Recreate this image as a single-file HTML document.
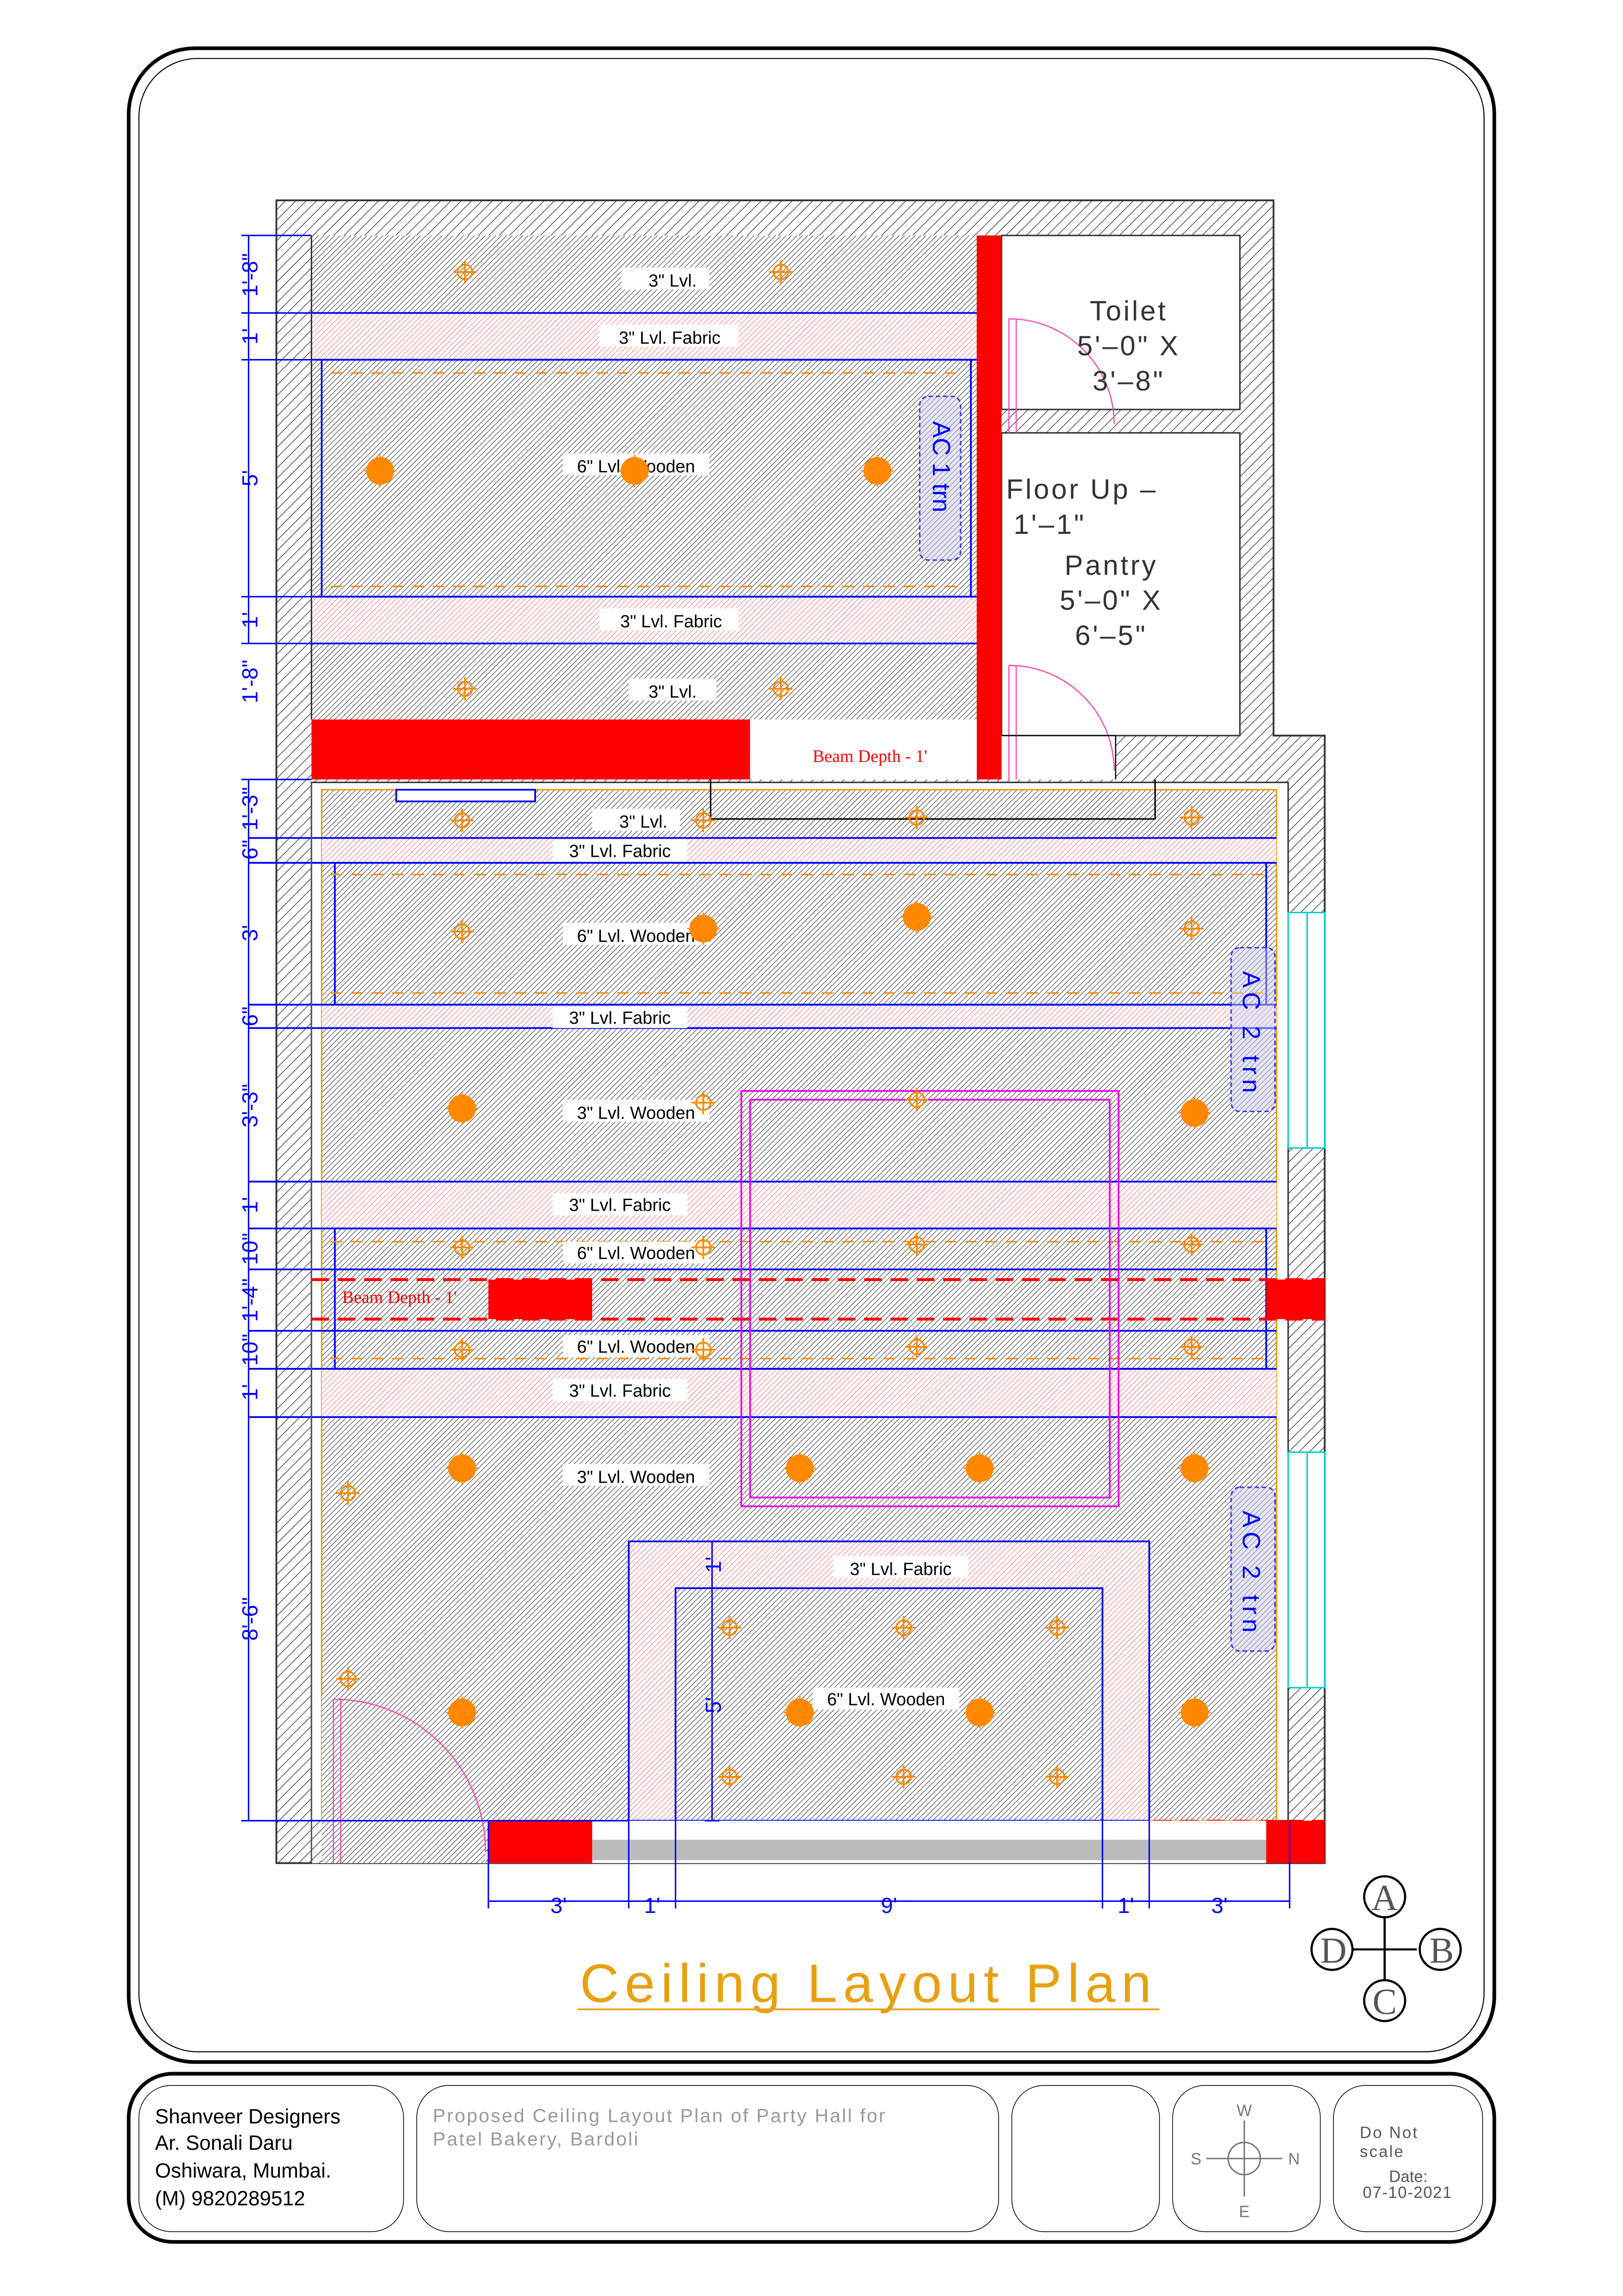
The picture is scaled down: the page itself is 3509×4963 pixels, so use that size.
<!DOCTYPE html>
<html><head><meta charset="utf-8"><style>html,body{margin:0;padding:0;background:#fff}svg{display:block}</style></head><body>
<svg width="3509" height="4963" viewBox="0 0 1110 1570" xmlns="http://www.w3.org/2000/svg" font-family="'Liberation Sans', sans-serif">
<defs>
<pattern id="wall" width="5" height="5" patternUnits="userSpaceOnUse" patternTransform="rotate(45)"><rect width="5" height="5" fill="#fff"/><line x1="0" y1="0" x2="0" y2="5" stroke="#222" stroke-width="0.8"/></pattern>
<pattern id="ceil" width="2.6" height="2.6" patternUnits="userSpaceOnUse" patternTransform="rotate(45)"><rect width="2.6" height="2.6" fill="#fff"/><line x1="0" y1="0" x2="0" y2="2.6" stroke="#111" stroke-width="0.6"/></pattern>
<pattern id="fab" width="2.6" height="2.6" patternUnits="userSpaceOnUse" patternTransform="rotate(45)"><rect width="2.6" height="2.6" fill="#fff"/><line x1="0" y1="0" x2="0" y2="2.6" stroke="#e33" stroke-width="0.5"/></pattern>
<g id="sl"><circle r="5" fill="none" stroke="#f80" stroke-width="1.2"/><path d="M-8 0H8M0-8V8" stroke="#f80" stroke-width="1.2"/></g>
<g id="bl"><circle r="9" fill="#f80" stroke="#f80"/><path d="M-11 0H11M0-11V11" stroke="#f80" stroke-width="1"/></g>
</defs>
<rect width="1110" height="1570" fill="#fff"/>
<rect x="88" y="33" width="934" height="1377" rx="45" fill="none" stroke="#000" stroke-width="2.5"/>
<rect x="95" y="40" width="920" height="1363" rx="40" fill="none" stroke="#000" stroke-width="0.7"/>
<rect x="88" y="1418" width="934" height="115" rx="30" fill="none" stroke="#000" stroke-width="2.5"/>
<rect x="95" y="1426" width="181" height="100" rx="22" fill="none" stroke="#000" stroke-width="0.5"/>
<rect x="285" y="1426" width="398" height="100" rx="22" fill="none" stroke="#000" stroke-width="0.5"/>
<rect x="692" y="1426" width="101" height="100" rx="22" fill="none" stroke="#000" stroke-width="0.5"/>
<rect x="802" y="1426" width="101" height="100" rx="22" fill="none" stroke="#000" stroke-width="0.5"/>
<rect x="912" y="1426" width="102" height="100" rx="22" fill="none" stroke="#000" stroke-width="0.5"/>
<g font-size="14" fill="#000"><text x="106" y="1452">Shanveer Designers</text><text x="106" y="1470">Ar. Sonali Daru</text><text x="106" y="1489">Oshiwara, Mumbai.</text><text x="106" y="1508">(M) 9820289512</text></g>
<g font-size="13" fill="#999" letter-spacing="1"><text x="296" y="1451">Proposed Ceiling Layout Plan of Party Hall for</text><text x="296" y="1467">Patel Bakery, Bardoli</text></g>
<g stroke="#777" fill="none" stroke-width="1"><circle cx="851" cy="1476" r="11"/><path d="M825 1476H877M851 1450V1502"/></g>
<g font-size="11" fill="#777" text-anchor="middle"><text x="851" y="1447">W</text><text x="851" y="1516">E</text><text x="818" y="1480">S</text><text x="885" y="1480">N</text></g>
<g font-size="11" fill="#555"><text x="930" y="1462" letter-spacing="1">Do  Not</text><text x="930" y="1475" letter-spacing="1">scale</text><text x="950" y="1492">Date:</text><text x="932" y="1503" letter-spacing="0.5">07-10-2021</text></g>

<path d="M189 137H871V503H906V1274H189Z" fill="url(#wall)" stroke="#333" stroke-width="1.2"/>
<rect x="213" y="161" width="455" height="331" fill="url(#ceil)"/>
<rect x="213" y="214" width="455" height="32" fill="url(#fab)"/>
<rect x="213" y="408" width="455" height="32" fill="url(#fab)"/>
<g stroke="#00f" stroke-width="1.2" fill="none"><path d="M213 214H668M213 246H668M213 408H668M213 440H668"/><rect x="220" y="246" width="444" height="162"/></g>
<g stroke="#f80" stroke-dasharray="8 6" stroke-width="1"><path d="M226 255H660M226 401H660"/></g>
<rect x="685" y="161" width="163" height="119" fill="#fff" stroke="#333" stroke-width="1"/>
<rect x="685" y="296" width="163" height="207" fill="#fff" stroke="#333" stroke-width="1"/>
<rect x="685" y="503" width="78" height="30" fill="#fff"/>
<path d="M213 161V492" stroke="#333" stroke-width="1"/>
<rect x="668" y="161" width="17" height="372" fill="#f00"/>
<rect x="213" y="492" width="300" height="41" fill="#f00"/>
<rect x="513" y="492" width="155" height="41" fill="#fff"/>
<text x="595" y="521" font-family="'Liberation Serif',serif" font-size="12" fill="#f00" text-anchor="middle">Beam Depth - 1'</text>
<path d="M690 218A72 72 0 0 1 762 290M690 218V296M695 218V296M690 455A72 72 0 0 1 762 527M690 455V533M695 455V533" stroke="#f4a" fill="none" stroke-width="0.8"/>
<path d="M685 503H763V533" stroke="#000" fill="none" stroke-width="0.8"/>
<g font-size="19" fill="#333" text-anchor="middle" letter-spacing="1.5"><text x="772" y="219">Toilet</text><text x="772" y="243">5'–0" X</text><text x="772" y="267">3'–8"</text><text x="740" y="341">Floor Up –</text><text x="718" y="365">1'–1"</text><text x="760" y="393">Pantry</text><text x="760" y="417">5'–0" X</text><text x="760" y="441">6'–5"</text></g>
<rect x="629" y="271" width="28" height="112" rx="6" fill="#cce" fill-opacity="0.5" stroke="#33f" stroke-dasharray="3 2"/>
<text transform="translate(638,288) rotate(90)" font-size="17" fill="#00f">AC 1 trn</text>

<rect x="213" y="535" width="668" height="710" fill="#fff" stroke="#333" stroke-width="1"/>
<rect x="220" y="540" width="653" height="705" fill="url(#ceil)" stroke="#e90" stroke-width="1"/>
<g fill="url(#fab)"><rect x="220" y="573" width="653" height="17"/><rect x="220" y="687" width="653" height="16"/><rect x="220" y="808" width="653" height="32"/><rect x="220" y="936" width="653" height="33"/></g>
<g stroke="#00f" stroke-width="1.2" fill="none"><path d="M170 573H873M170 590H873M170 687H873M170 703H873M170 808H873M170 840H873M170 868H873M170 910H873M170 936H873M170 969H873"/><rect x="229" y="590" width="637" height="97"/><rect x="229" y="840" width="637" height="96"/><rect x="271" y="540" width="95" height="8" fill="#fff"/></g>
<path d="M486 533V560H790V533" stroke="#000" fill="none" stroke-width="1"/>
<g stroke="#f80" stroke-dasharray="8 6" stroke-width="1"><path d="M226 598H866M226 679H866M226 849H866M226 929H866"/></g>
<g stroke="#f00" stroke-dasharray="12 6" stroke-width="2"><path d="M213 875H906M213 902H906"/><path d="M213 1245H906" stroke-width="1.2"/></g>
<rect x="334" y="875" width="71" height="27" fill="#f00"/>
<rect x="866" y="875" width="40" height="27" fill="#f00"/>
<text x="234" y="891" font-family="'Liberation Serif',serif" font-size="12" fill="#f00">Beam Depth - 1'</text>
<rect x="507" y="746" width="258" height="284" fill="none" stroke="#e0e" stroke-width="1.2"/>
<rect x="513" y="752" width="246" height="272" fill="none" stroke="#e0e" stroke-width="1.2"/>
<rect x="430" y="1054" width="356" height="191" fill="url(#fab)" stroke="#00f" stroke-width="1.2"/>
<rect x="462" y="1086" width="292" height="159" fill="url(#ceil)" stroke="#00f" stroke-width="1.2"/>
<g fill="#fff" stroke="#0cc" stroke-width="1"><rect x="881" y="624" width="25" height="161"/><rect x="881" y="993" width="25" height="161"/><path d="M894 624V785M894 993V1154"/></g>
<rect x="213" y="1245" width="121" height="29" fill="url(#wall)"/>
<rect x="334" y="1245" width="532" height="29" fill="#fff"/>
<rect x="334" y="1245" width="71" height="29" fill="#f00"/>
<rect x="405" y="1258" width="461" height="14" fill="#bbb"/>
<rect x="866" y="1245" width="40" height="29" fill="#f00"/>
<rect x="220" y="1160" width="112" height="114" fill="url(#ceil)"/>
<path d="M228 1162A104 104 0 0 1 332 1266M228 1162V1274M233 1162V1274" stroke="#f4a" fill="none" stroke-width="0.8"/>
<path d="M213 535V1274" stroke="#555" stroke-width="1"/>
<rect x="842" y="648" width="30" height="112" rx="6" fill="#cce" fill-opacity="0.5" stroke="#33f" stroke-dasharray="3 2"/>
<text transform="translate(850,664) rotate(90)" font-size="17" fill="#00f" letter-spacing="3">AC 2 trn</text>
<rect x="842" y="1017" width="30" height="112" rx="6" fill="#cce" fill-opacity="0.5" stroke="#33f" stroke-dasharray="3 2"/>
<text transform="translate(850,1033) rotate(90)" font-size="17" fill="#00f" letter-spacing="3">AC 2 trn</text>
<g font-size="12" fill="#000" text-anchor="middle">
<g fill="#fff"><rect x="425" y="183" width="60" height="15"/><rect x="410" y="222" width="95" height="15"/><rect x="385" y="310" width="100" height="15"/><rect x="410" y="416" width="95" height="15"/><rect x="430" y="464" width="60" height="15"/><rect x="405" y="553" width="60" height="15"/><rect x="378" y="574" width="92" height="15"/><rect x="385" y="631" width="100" height="15"/><rect x="378" y="688" width="92" height="15"/><rect x="385" y="752" width="100" height="15"/><rect x="378" y="816" width="92" height="15"/><rect x="385" y="849" width="100" height="15"/><rect x="385" y="913" width="100" height="15"/><rect x="378" y="943" width="92" height="15"/><rect x="385" y="1001" width="100" height="15"/><rect x="570" y="1064" width="92" height="15"/><rect x="556" y="1154" width="100" height="15"/></g>
<text x="460" y="196">3" Lvl.</text><text x="458" y="235">3" Lvl. Fabric</text><text x="435" y="323">6" Lvl. Wooden</text><text x="459" y="429">3" Lvl. Fabric</text><text x="460" y="477">3" Lvl.</text><text x="440" y="566">3" Lvl.</text><text x="424" y="586">3" Lvl. Fabric</text><text x="435" y="644">6" Lvl. Wooden</text><text x="424" y="700">3" Lvl. Fabric</text><text x="435" y="765">3" Lvl. Wooden</text><text x="424" y="828">3" Lvl. Fabric</text><text x="435" y="861">6" Lvl. Wooden</text><text x="435" y="925">6" Lvl. Wooden</text><text x="424" y="955">3" Lvl. Fabric</text><text x="435" y="1014">3" Lvl. Wooden</text><text x="616" y="1077">3" Lvl. Fabric</text><text x="606" y="1166">6" Lvl. Wooden</text>
</g>
<use href="#sl" x="318" y="186"/><use href="#sl" x="534" y="186"/><use href="#sl" x="318" y="471"/><use href="#sl" x="534" y="471"/>
<use href="#bl" x="260" y="322"/><use href="#bl" x="434" y="322"/><use href="#bl" x="600" y="322"/>
<use href="#sl" x="316" y="561"/><use href="#sl" x="481" y="561"/><use href="#sl" x="627" y="559"/><use href="#sl" x="815" y="559"/>
<use href="#sl" x="316" y="637"/><use href="#bl" x="481" y="635"/><use href="#bl" x="627" y="627"/><use href="#sl" x="815" y="635"/>
<use href="#bl" x="316" y="758"/><use href="#sl" x="481" y="754"/><use href="#sl" x="627" y="752"/><use href="#bl" x="817" y="761"/>
<use href="#sl" x="316" y="853"/><use href="#sl" x="481" y="853"/><use href="#sl" x="627" y="851"/><use href="#sl" x="815" y="851"/>
<use href="#sl" x="316" y="923"/><use href="#sl" x="481" y="923"/><use href="#sl" x="627" y="921"/><use href="#sl" x="815" y="921"/>
<use href="#bl" x="316" y="1004"/><use href="#bl" x="547" y="1004"/><use href="#bl" x="670" y="1004"/><use href="#bl" x="817" y="1004"/><use href="#sl" x="238" y="1021"/>
<use href="#sl" x="238" y="1148"/><use href="#bl" x="316" y="1171"/><use href="#bl" x="547" y="1171"/><use href="#bl" x="670" y="1171"/><use href="#bl" x="817" y="1171"/>
<use href="#sl" x="499" y="1113"/><use href="#sl" x="618" y="1113"/><use href="#sl" x="723" y="1113"/><use href="#sl" x="499" y="1215"/><use href="#sl" x="618" y="1215"/><use href="#sl" x="723" y="1215"/>
<g stroke="#00f" stroke-width="1"><path d="M170 161V440M170 533V1245M165 161H213M165 214H213M165 246H213M165 408H213M165 440H213M165 533H213M165 1245H430"/>
<path d="M487 1054V1245M482 1086H492M482 1054H492M482 1245H492"/>
<path d="M334 1300H882M334 1245V1305M430 1245V1305M462 1245V1305M754 1245V1305M786 1245V1305M882 1245V1305"/></g>
<g font-size="15" fill="#00f" text-anchor="middle">
<text transform="translate(176,188) rotate(-90)">1'-8"</text><text transform="translate(176,230) rotate(-90)">1'</text><text transform="translate(176,327) rotate(-90)">5'</text><text transform="translate(176,424) rotate(-90)">1'</text><text transform="translate(176,466) rotate(-90)">1'-8"</text>
<text transform="translate(176,553) rotate(-90)">1'-3"</text><text transform="translate(176,581) rotate(-90)">6"</text><text transform="translate(176,638) rotate(-90)">3'</text><text transform="translate(176,695) rotate(-90)">6"</text><text transform="translate(176,756) rotate(-90)">3'-3"</text><text transform="translate(176,824) rotate(-90)">1'</text><text transform="translate(176,854) rotate(-90)">10"</text><text transform="translate(176,889) rotate(-90)">1'-4"</text><text transform="translate(176,923) rotate(-90)">10"</text><text transform="translate(176,952) rotate(-90)">1'</text><text transform="translate(176,1107) rotate(-90)">8'-6"</text>
<text transform="translate(493,1070) rotate(-90)">1'</text><text transform="translate(493,1166) rotate(-90)">5'</text>
<text x="382" y="1308">3'</text><text x="446" y="1308">1'</text><text x="608" y="1308">9'</text><text x="770" y="1308">1'</text><text x="834" y="1308">3'</text></g>
<text x="594" y="1369" font-size="37" fill="#e8a010" text-anchor="middle" letter-spacing="4" font-weight="300">Ceiling Layout Plan</text>
<path d="M395 1374H793" stroke="#e8a010" stroke-width="1.2"/>
<g stroke="#000" stroke-width="1.5" fill="#fff"><path d="M947 1311V1354M925 1333H969"/><circle cx="947" cy="1297" r="14"/><circle cx="985" cy="1333" r="14"/><circle cx="947" cy="1368" r="14"/><circle cx="911" cy="1333" r="14"/></g>
<g font-family="'Liberation Serif',serif" font-size="25" fill="#555" text-anchor="middle"><text x="947" y="1306">A</text><text x="986" y="1342">B</text><text x="947" y="1377">C</text><text x="912" y="1342">D</text></g>
</svg>
</body></html>
